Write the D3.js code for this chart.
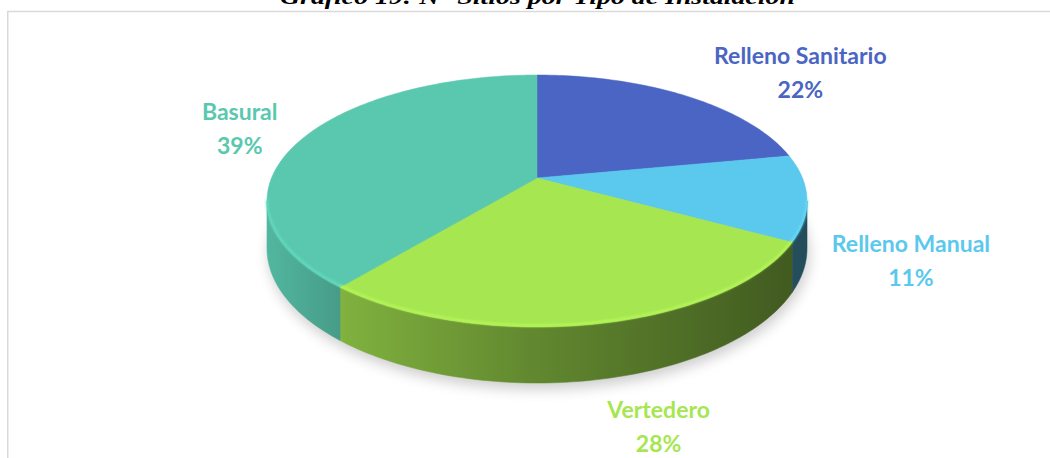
<!DOCTYPE html>
<html>
<head>
<meta charset="utf-8">
<script src="https://cdn.jsdelivr.net/npm/d3@7"></script>
<style>
	body { margin: 0; background: #fff; }
	svg { display: block; }
</style>
</head>
<body>
<svg id="chart"></svg>
<script>
// data
const categories = ['Relleno Sanitario', 'Relleno Manual', 'Vertedero', 'Basural']
const shares = [22, 11, 28, 39]
const colors = ['#4a65c3', '#5bc8ed', '#a6e651', '#5ac8ae']
const chartTitle = 'Gráfico 19: N° Sitios por Tipo de Instalación'

// label placement relative to the rim point at the slice middle
const labelShift = [[115, -32], [104, 54], [61, 94], [-62, -19]]

const width = 1050, height = 458
const cx = 537, cy = 178      // projected centre of the top face
const rx = 265.5, ry = 121.8  // radii before perspective
const persp = 0.1825          // far side shrinks
const depth = 45.8            // thickness of the disk

const svg = d3.select('#chart').attr('width', width).attr('height', height)
const defs = svg.append('defs')

let x = d3.scaleLinear().domain([-1, 1]).range([cx - rx, cx + rx])
let y = d3.scaleLinear().domain([-1, 1]).range([cy + ry, cy - ry])

// angle (clockwise from 12 o'clock) -> screen point, optionally on the bottom rim
function proj(a, down) {
	let X = Math.sin(a), Z = Math.cos(a)
	let w = 1 + persp * Z
	return [x(X / w), y(Z / w) + (down ? depth / w : 0)]
}

function arcPoints(a0, a1, down) {
	let n = Math.max(2, Math.ceil(Math.abs(a1 - a0) / 0.02))
	return d3.range(n + 1).map(i => proj(a0 + (a1 - a0) * i / n, down))
}

const line = d3.line()

let pie = d3.pie().sort(null).value(d => d)
let slices = pie(shares)

// front part of the wall is visible between the two silhouette angles
const sideA = Math.acos(-persp), sideB = 2 * Math.PI - Math.acos(-persp)

// shadow
defs.append('filter').attr('id', 'blur').attr('x', '-20%').attr('y', '-20%').attr('width', '140%').attr('height', '140%')
	.append('feGaussianBlur').attr('stdDeviation', 7)
defs.append('filter').attr('id', 'soft')
	.append('feGaussianBlur').attr('stdDeviation', 1)

svg.append('path')
	.attr('d', line(arcPoints(0, 2 * Math.PI, true)) + 'Z')
	.attr('transform', 'translate(2,6)')
	.attr('fill', '#000')
	.attr('opacity', 0.2)
	.attr('filter', 'url(#blur)')

// side gradients, lit from the left
slices.forEach((d, i) => {
	let c = colors[i]
	let g = defs.append('linearGradient')
		.attr('id', `side_${i}`)
		.attr('gradientUnits', 'userSpaceOnUse')
		.attr('x1', cx - rx * 1.02).attr('x2', cx + rx * 1.02)
		.attr('y1', 0).attr('y2', 0)
	g.append('stop').attr('offset', 0).attr('stop-color', d3.color(c).darker(0.25))
	g.append('stop').attr('offset', 0.15).attr('stop-color', d3.color(c).darker(0.75))
	g.append('stop').attr('offset', 0.5).attr('stop-color', d3.color(c).darker(1.5))
	g.append('stop').attr('offset', 1).attr('stop-color', d3.color(c).darker(2.7))
})

// outer walls
svg.append('g')
	.selectAll('path')
	.data(slices.filter(d => d.endAngle > sideA && d.startAngle < sideB))
	.join('path')
		.attr('d', d => {
			let a0 = Math.max(d.startAngle, sideA), a1 = Math.min(d.endAngle, sideB)
			let pts = arcPoints(a0, a1, false).concat(arcPoints(a1, a0, true))
			return line(pts) + 'Z'
		})
		.attr('fill', d => `url(#side_${d.index})`)
		.attr('stroke', d => `url(#side_${d.index})`)
		.attr('stroke-width', 0.5)

// top faces
svg.append('g')
	.selectAll('path')
	.data(slices)
	.join('path')
		.attr('d', d => line([[cx, cy]].concat(arcPoints(d.startAngle, d.endAngle, false))) + 'Z')
		.attr('fill', d => colors[d.index])
		.attr('stroke', d => colors[d.index])
		.attr('stroke-width', 0.5)

// bevel highlight on the front rim
svg.append('g')
	.attr('filter', 'url(#soft)')
	.attr('opacity', 0.7)
	.selectAll('path')
	.data(slices.filter(d => d.endAngle > sideA && d.startAngle < sideB))
	.join('path')
		.attr('d', d => {
			let a0 = Math.max(d.startAngle, sideA), a1 = Math.min(d.endAngle, sideB)
			return line(arcPoints(a0, a1, false).map(p => [p[0], p[1] - 1.5]))
		})
		.attr('fill', 'none')
		.attr('stroke', d => d3.color(colors[d.index]).brighter(0.35))
		.attr('stroke-width', 2.5)

// labels
let labels = svg.append('g')
	.attr('font-family', 'Lato, sans-serif')
	.attr('font-weight', 700)
	.attr('font-size', 23)
	.attr('text-anchor', 'middle')
	.selectAll('text')
	.data(slices)
	.join('text')
		.attr('fill', d => colors[d.index])
		.attr('transform', d => {
			let p = proj((d.startAngle + d.endAngle) / 2, false)
			let s = labelShift[d.index]
			return `translate(${p[0] + s[0]},${p[1] + s[1]})`
		})

labels.append('tspan')
	.attr('x', 0).attr('y', 0)
	.text(d => categories[d.index])
labels.append('tspan')
	.attr('x', 0).attr('y', 34)
	.text(d => d.data + '%')

// frame and cut-off title
svg.append('path')
	.attr('d', `M7.75,${height}V11.5H${width}`)
	.attr('fill', 'none')
	.attr('stroke', '#d9d9d9')
	.attr('stroke-width', 1.5)

svg.append('text')
	.attr('x', 537.5)
	.attr('y', 4)
	.attr('text-anchor', 'middle')
	.attr('font-family', '"Liberation Serif", serif')
	.attr('font-style', 'italic')
	.attr('font-weight', 700)
	.attr('font-size', 22)
	.attr('textLength', 515)
	.attr('lengthAdjust', 'spacingAndGlyphs')
	.text(chartTitle)
</script>
</body>
</html>
